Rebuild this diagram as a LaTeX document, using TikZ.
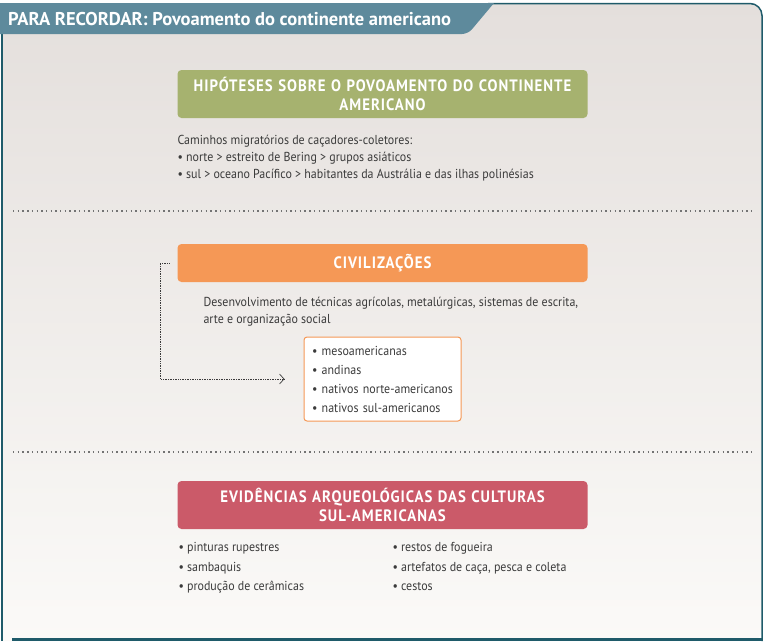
\documentclass[tikz,border=0pt]{standalone}
\usepackage{fontspec}
\setmainfont{PT Sans}[FakeStretch=0.92]
\newfontfamily\headfont{PT Sans}[FakeStretch=0.9,LetterSpace=6]
\newfontfamily\titlefont{PT Sans}
\usepackage{xcolor}
\usetikzlibrary{arrows.meta,positioning}
\definecolor{tabcol}{HTML}{5E8A9C}
\definecolor{framecol}{HTML}{1F5B6A}
\definecolor{hipcol}{HTML}{A6B26F}
\definecolor{civcol}{HTML}{F59856}
\definecolor{evicol}{HTML}{CB5A69}
\definecolor{txtcol}{HTML}{3B3B3B}
\definecolor{bgtop}{HTML}{E4DFDC}
\definecolor{bgbot}{HTML}{FBFAF8}
\newcommand{\itm}{\textbullet\ }

\begin{document}
\begin{tikzpicture}[x=1pt,y=-1pt,
  font=\fontsize{13}{17}\selectfont,text=txtcol,
  head/.style={rounded corners=4pt,text width=400pt,inner xsep=5pt,inner ysep=3pt,
               align=center,text=white,font=\headfont\fontsize{16.5}{19}\selectfont\bfseries},
  txt/.style={inner sep=0pt,align=left},
  lst/.style={draw=civcol,line width=1pt,fill=white,rounded corners=3pt,inner xsep=8pt,
              inner ysep=5pt,text width=141pt,minimum height=84pt,align=left,
              font=\fontsize{13}{19}\selectfont},
  ar/.style={-{Straight Barb[length=4.5pt,width=10pt]},densely dotted,line width=0.7pt,txtcol},
  sep/.style={line width=1.4pt,dash pattern=on 1.4pt off 3.3pt,black!55},
]
\useasboundingbox (0,0) rectangle (763,641);
\fill[white] (0,0) rectangle (763,641);
% moldura
\shade[top color=bgtop,bottom color=bgbot,rounded corners=12pt]
  (1,3) -- (762,3) -- (762,641) [sharp corners] -- (1,641) -- cycle;
\draw[framecol,line width=1.5pt,rounded corners=12pt] (488,3.5) -- (762,3.5) -- (762,641);
\draw[framecol,line width=2pt] (1.5,34) -- (1.5,641);
\draw[framecol,line width=3pt] (12,639.5) -- (763,639.5);
\fill[tabcol] (0,3) -- (494,3) [rounded corners=6pt] -- (468,34) [sharp corners] -- (0,34) -- cycle;
\node[anchor=base west,inner sep=0pt,text=white,font=\titlefont\fontsize{18.5}{20}\selectfont\bfseries]
  (titulo) at (8,25) {PARA RECORDAR: Povoamento do continente americano};

% hipoteses
\node[head,fill=hipcol,minimum height=48pt] (hip) at (382.5,94)
  {HIPÓTESES SOBRE O POVOAMENTO DO CONTINENTE\\ AMERICANO};
\node[txt,below right=17pt and 0pt of hip.south west] (rotas)
  {Caminhos migratórios de caçadores-coletores:\\
   \itm norte > estreito de Bering > grupos asiáticos\\
   \itm sul > oceano Pacífico > habitantes da Austrália e das ilhas polinésias};

\coordinate (s1a) at (13,211);
\coordinate (s1b) at (752,211);
\draw[sep] (s1a) -- (s1b);

% civilizacoes
\node[head,fill=civcol,minimum height=38pt] (civ) at (382.5,263) {CIVILIZAÇÕES};
\node[txt,below right=15pt and 26pt of civ.south west] (desenv)
  {Desenvolvimento de técnicas agrícolas, metalúrgicas, sistemas de escrita,\\
   arte e organização social};
\node[lst] (lista) at (382.5,379)
  {\itm mesoamericanas\\ \itm andinas\\ \itm nativos norte-americanos\\ \itm nativos sul-americanos};
\draw[ar,shorten <=8pt,shorten >=19pt] (civ.west) -- ++(-17,0) |- (lista.west);

\coordinate (s2a) at (13,452);
\coordinate (s2b) at (752,452);
\draw[sep] (s2a) -- (s2b);

% evidencias
\node[head,fill=evicol,minimum height=48pt] (evi) at (382.5,505)
  {EVIDÊNCIAS ARQUEOLÓGICAS DAS CULTURAS\\ SUL-AMERICANAS};
\node[txt,below right=13pt and 1pt of evi.south west,font=\fontsize{13}{19.5}\selectfont] (evia)
  {\itm pinturas rupestres\\ \itm sambaquis\\ \itm produção de cerâmicas};
\node[txt,below right=13pt and 215pt of evi.south west,font=\fontsize{13}{19.5}\selectfont] (evib)
  {\itm restos de fogueira\\ \itm artefatos de caça, pesca e coleta\\ \itm cestos};
\end{tikzpicture}
\end{document}
